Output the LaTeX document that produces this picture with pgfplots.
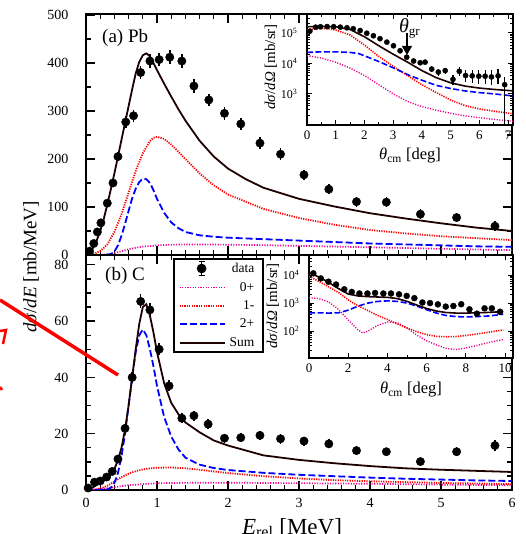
\documentclass[border=0pt]{standalone}
\usepackage{pgfplots}
\pgfplotsset{compat=1.18}
\usepackage{pgfplotstable}
\usepackage{fontspec}
\setmainfont{Liberation Serif}
\usetikzlibrary{arrows.meta}
\definecolor{sumc}{RGB}{30,0,0}

\pgfplotstableread{
x y e
0.05 8 3
0.11 24 5
0.16 48 6
0.21 67 7
0.30 108 8
0.38 150 9
0.45 205 10
0.56 277 12
0.67 290 13
0.77 380 13
0.90 404 14
1.03 407 14
1.18 412 15
1.35 404 14
1.52 352 14
1.73 323 13
1.95 295 13
2.18 273 13
2.45 233 13
2.74 210 12
3.07 167 11
3.42 137 10
3.81 111 10
4.23 110 10
4.71 85 10
5.22 78 9
5.76 60 10
}\dataA

\pgfplotstableread{
x y e
0.03 0.7 0.5
0.12 2.8 0.6
0.20 3.2 0.7
0.29 4.6 0.8
0.37 6.6 0.9
0.45 11 1.1
0.55 21.9 1.5
0.65 40 2
0.77 67 2.5
0.90 64 2.5
1.03 50 2.2
1.17 37 2
1.35 25.5 1.8
1.52 26.4 1.8
1.72 23.4 1.8
1.95 18.4 1.6
2.18 18.6 1.6
2.45 19.4 1.7
2.74 18.2 1.7
3.07 17.4 1.6
3.42 16.4 1.6
3.81 14 1.5
4.23 13.6 1.4
4.71 10.1 1.4
5.22 13.6 1.6
5.76 15.8 1.8
}\dataB

\pgfplotstableread{
x y ep em
0.10 1.15e5 2.5e4 2.5e4
0.30 1.55e5 1e4 1e4
0.47 1.6e5 1e4 1e4
0.70 1.62e5 1e4 1e4
0.93 1.6e5 1e4 1e4
1.16 1.55e5 1e4 1e4
1.39 1.48e5 1e4 1e4
1.61 1.38e5 1e4 1e4
1.85 1.2e5 1e4 1e4
2.08 9.8e4 8e3 8e3
2.31 8.1e4 7e3 7e3
2.54 6.5e4 5e3 5e3
2.78 5.0e4 4e3 4e3
3.01 3.8e4 3e3 3e3
3.24 2.6e4 2.5e3 2.5e3
3.47 1.6e4 2e3 2e3
3.71 1.2e4 1.5e3 1.5e3
3.94 1.05e4 1.5e3 1.5e3
4.11 1.1e4 1.5e3 1.5e3
4.34 6.5e3 1.5e3 1.2e3
4.57 5.2e3 1.5e3 1.2e3
4.81 5.8e3 1.5e3 1.2e3
5.08 3.0e3 1.3e3 1e3
5.30 5.5e3 2e3 1.5e3
5.52 4.0e3 2e3 1.5e3
5.75 3.9e3 2.2e3 1.6e3
5.98 3.8e3 2.3e3 1.7e3
6.20 3.8e3 2.3e3 1.7e3
6.42 3.6e3 2.3e3 1.7e3
6.65 3.9e3 2.5e3 1.8e3
6.88 2.0e3 1.6e3 1.99e3
}\insA

\pgfplotstableread{
x y e
0.22 1.15e4 1e3
0.60 7.6e3 5e2
0.99 5.8e3 4e2
1.38 4.6e3 3e2
1.80 3.1e3 2e2
2.18 2.5e3 2e2
2.57 2.2e3 1.5e2
2.98 2.2e3 1.5e2
3.37 2.3e3 1.5e2
3.79 2.2e3 1.5e2
4.18 2.2e3 1.5e2
4.59 2.05e3 1.5e2
4.98 1.8e3 1.5e2
5.37 1.5e3 1.2e2
5.78 1.05e3 1e2
6.17 1.0e3 1e2
6.57 900 90
6.97 750 80
7.36 790 80
7.76 910 90
8.18 600 80
8.56 420 80
8.95 650 100
9.32 650 110
9.74 490 100
}\insB

\tikzset{
 cZero/.style={magenta, line width=1.7pt, dash pattern=on 1.1pt off 1.5pt},
 cOne/.style={red, line width=1.8pt, dash pattern=on 1.2pt off 1.2pt},
 cTwo/.style={blue, line width=1.8pt, dash pattern=on 7pt off 3pt},
 cSum/.style={sumc, line width=1.8pt},
}
\pgfplotsset{
 mainax/.style={scale only axis, anchor=south west,
   axis line style={line width=1.6pt}, tick style={line width=1.3pt, black},
   major tick length=9pt, minor tick length=5pt, tick align=inside,
   /pgf/number format/assume math mode=true,
   ticklabel style={font=\fontsize{14}{15}\selectfont},
   yticklabel style={xshift=-14pt}, xticklabel style={yshift=-5pt}},
 insax/.style={scale only axis, anchor=south west,
   axis background/.style={fill=white},
   axis line style={line width=1.4pt}, tick style={line width=1.0pt, black},
   major tick length=5pt, minor tick length=3pt, tick align=inside,
   /pgf/number format/assume math mode=true,
   ticklabel style={font=\fontsize{13}{14}\selectfont},
   yticklabel style={xshift=-6pt, font=\fontsize{12}{13}\selectfont}, xticklabel style={yshift=-2pt}},
}

\begin{document}
\begin{tikzpicture}
\useasboundingbox (0pt,0pt) rectangle (525pt,534pt);

% ---------- panel (a) ----------
\begin{axis}[mainax, at={(86pt,279pt)}, width=426pt, height=241pt,
  xmin=0, xmax=6, ymin=0, ymax=502,
  xtick={0,1,...,6}, xticklabel=\empty, minor x tick num=4,
  ytick={0,100,...,500}, minor y tick num=1]
\addplot[cZero] coordinates {(0,0) (0.2,0.5) (0.3,1.5) (0.4,4) (0.5,8) (0.6,12) (0.7,15) (0.8,17.5) (1.0,20) (1.2,21.5) (1.5,22) (2.0,21.5) (2.5,20.5) (3.0,19) (3.5,17.5) (4.0,16) (4.5,14.5) (5.0,13) (5.5,11.5) (6.0,10)};
\addplot[cOne] coordinates {(0,0) (0.1,2) (0.2,8) (0.3,22) (0.4,48) (0.5,85) (0.6,130) (0.7,175) (0.8,212) (0.9,237) (0.95,244) (1.0,246) (1.1,242) (1.2,230) (1.4,200) (1.6,170) (1.8,145) (2.0,126) (2.5,96) (3.0,77) (3.5,63) (4.0,52) (4.5,45) (5.0,39) (5.5,35) (6.0,31)};
\addplot[cTwo] coordinates {(0,0) (0.2,0) (0.3,0.5) (0.35,2) (0.4,7) (0.45,20) (0.5,40) (0.55,65) (0.6,92) (0.65,118) (0.7,138) (0.75,152) (0.8,159) (0.85,158) (0.9,150) (0.95,135) (1.0,117) (1.1,88) (1.2,68) (1.3,56) (1.4,48) (1.6,41) (1.8,38) (2.0,36) (2.5,33) (3.0,30) (3.5,27) (4.0,24) (4.5,22) (5.0,20) (5.5,18) (6.0,17)};
\addplot[cSum] coordinates {(0,0) (0.05,4) (0.1,15) (0.15,30) (0.2,50) (0.25,75) (0.3,105) (0.35,137) (0.4,170) (0.45,205) (0.5,240) (0.55,275) (0.6,310) (0.65,345) (0.7,378) (0.75,402) (0.8,416) (0.85,420) (0.9,414) (0.95,400) (1.0,385) (1.1,357) (1.2,330) (1.3,304) (1.4,280) (1.6,238) (1.8,205) (2.0,180) (2.25,158) (2.5,140) (3.0,117) (3.5,101) (4.0,87) (4.5,76) (5.0,66) (5.5,57) (6.0,50)};
\addplot[only marks, black, mark=*, mark size=4.2pt,
  error bars/.cd, y dir=both, y explicit, error bar style={line width=1.5pt}, error mark=none]
  table[x=x, y=y, y error=e] {\dataA};
\end{axis}

% ---------- inset (a) ----------
\begin{axis}[insax, at={(307pt,409pt)}, width=206pt, height=111pt,
  ymode=log, xmin=0, xmax=7.17, ymin=95, ymax=4.2e5,
  xtick={0,1,...,7}, minor x tick num=1,
  ytick={1e3,1e4,1e5}, yticklabels={10\textsuperscript{3},10\textsuperscript{4},10\textsuperscript{5}},
  minor ytick={100,200,300,400,500,600,700,800,900,2000,3000,4000,5000,6000,7000,8000,9000,20000,30000,40000,50000,60000,70000,80000,90000,200000,300000,400000}]
\addplot[cZero, line width=1.4pt] coordinates {(0,1.8e4) (0.5,1.5e4) (1.0,1.1e4) (1.5,7e3) (2.0,4e3) (2.5,2e3) (3.0,1e3) (3.5,560) (4.0,380) (4.5,290) (5.0,230) (5.5,190) (6.0,165) (6.5,145) (7.2,125)};
\addplot[cOne, line width=1.6pt] coordinates {(0,1.25e5) (0.25,1.35e5) (0.5,1.4e5) (0.75,1.38e5) (1.0,1.25e5) (1.5,8.6e4) (2.0,4.0e4) (2.5,1.7e4) (3.0,8e3) (3.5,4e3) (4.0,2.0e3) (4.5,1.1e3) (5.0,630) (5.5,410) (6.0,320) (6.5,270) (7.2,220)};
\addplot[cTwo, line width=1.6pt, dash pattern=on 6pt off 2.5pt] coordinates {(0,2.3e4) (0.5,2.4e4) (1.0,2.4e4) (1.5,2.3e4) (1.8,2.1e4) (2.08,1.66e4) (2.5,1.15e4) (3.0,7.2e3) (3.5,4.3e3) (4.0,2.8e3) (4.5,1.9e3) (5.0,1.5e3) (5.5,1.25e3) (6.0,1.1e3) (6.5,1.0e3) (7.2,850)};
\addplot[cSum, line width=1.6pt] coordinates {(0,1.6e5) (0.5,1.65e5) (1.0,1.6e5) (1.5,1.3e5) (2.0,7.5e4) (2.5,3.8e4) (3.0,2.0e4) (3.5,1.1e4) (4.0,5.8e3) (4.5,3.4e3) (5.0,2.3e3) (5.5,1.8e3) (6.0,1.55e3) (6.5,1.4e3) (7.2,1.25e3)};
\addplot[only marks, black, mark=*, mark size=2.6pt,
  error bars/.cd, y dir=both, y explicit, error bar style={line width=1.2pt}, error mark=none]
  table[x=x, y=y, y error plus=ep, y error minus=em] {\insA};
\draw[line width=1.4pt, -{Triangle[length=9pt,width=10pt]}] (axis cs:3.48,1.0e5) -- (axis cs:3.48,1.9e4);
\node[anchor=base west, inner sep=0pt, font=\fontsize{20}{22}\selectfont] at (axis cs:3.2,1.02e5) {\textit{θ}\textsubscript{\fontsize{13}{14}\selectfont gr}};
\end{axis}

% ---------- panel (b) ----------
\begin{axis}[mainax, at={(86pt,44pt)}, width=426pt, height=235pt,
  xmin=0, xmax=6, ymin=0, ymax=83.5,
  xtick={0,1,...,6}, minor x tick num=4,
  ytick={0,20,...,80}, minor y tick num=3,
  legend style={at={(0.204,0.987)}, anchor=north west, draw=black, line width=1.6pt, fill=white,
    font=\fontsize{13.5}{15}\selectfont, inner xsep=5pt, inner ysep=2pt, row sep=4pt,
    nodes={inner xsep=4pt}},
  legend cell align=right,
  legend image code/.code={\draw[#1] (0pt,0pt) -- (45pt,0pt);}]
\addplot[only marks, black, mark=*, mark size=4.2pt,
  legend image code/.code={\draw[black, line width=1.3pt] (22pt,-7pt) -- (22pt,7pt) (19pt,7pt) -- (25pt,7pt) (19pt,-7pt) -- (25pt,-7pt); \fill[black] (22pt,0pt) circle (4pt);},
  error bars/.cd, y dir=both, y explicit, error bar style={line width=1.5pt}, error mark=none]
  table[x=x, y=y, y error=e] {\dataB};
\addlegendentry{data}
\addplot[cZero] coordinates {(0,0) (0.2,0.3) (0.4,1) (0.6,1.7) (0.8,2.1) (1.0,2.4) (1.5,2.6) (2.0,2.6) (3.0,2.4) (4.0,2.2) (5.0,1.9) (6.0,1.7)};
\addlegendentry{0+}
\addplot[cOne] coordinates {(0,0) (0.1,0.1) (0.2,0.5) (0.3,1.5) (0.4,3) (0.5,4.6) (0.6,5.8) (0.7,6.7) (0.8,7.3) (0.9,7.7) (1.0,7.9) (1.2,8) (1.4,7.7) (1.6,7.2) (1.8,6.6) (2.0,6.0) (2.5,4.9) (3.0,4.1) (3.5,3.5) (4.0,3.1) (4.5,2.8) (5.0,2.5) (5.5,2.3) (6.0,2.1)};
\addlegendentry{1-}
\addplot[cTwo] coordinates {(0,0) (0.3,0.2) (0.35,0.8) (0.4,2.5) (0.45,6) (0.5,12) (0.55,20) (0.6,30) (0.65,40) (0.7,49) (0.75,55) (0.8,57) (0.85,55) (0.9,50) (0.95,44) (1.0,37) (1.1,26) (1.2,19) (1.3,14.5) (1.4,11.5) (1.6,9) (1.8,7.8) (2.0,7.1) (2.5,6.1) (3.0,5.4) (3.5,4.9) (4.0,4.4) (4.5,4.0) (5.0,3.7) (5.5,3.4) (6.0,3.2)};
\addlegendentry{2+}
\addplot[cSum] coordinates {(0,0) (0.1,1) (0.2,2.5) (0.3,4.2) (0.35,5.5) (0.4,7.5) (0.45,10.5) (0.5,15) (0.55,21.5) (0.6,30) (0.65,40) (0.7,50) (0.75,59) (0.8,65) (0.85,66) (0.9,62) (0.95,56) (1.0,49) (1.1,38) (1.2,31) (1.3,27) (1.4,24) (1.6,20.5) (1.8,17.6) (2.0,15.8) (2.5,12.3) (3.0,10.7) (3.5,9.5) (4.0,8.5) (4.5,7.7) (5.0,7.2) (5.5,6.8) (6.0,6.4)};
\addlegendentry{Sum}
\end{axis}

% ---------- inset (b) ----------
\begin{axis}[insax, at={(309pt,176pt)}, width=204pt, height=103pt,
  ymode=log, xmin=0, xmax=10.4, ymin=11, ymax=5.2e4,
  xtick={0,2,...,10}, minor x tick num=1,
  ytick={1e2,1e3,1e4}, yticklabels={10\textsuperscript{2},10\textsuperscript{3},10\textsuperscript{4}},
  minor ytick={20,30,40,50,60,70,80,90,200,300,400,500,600,700,800,900,2000,3000,4000,5000,6000,7000,8000,9000,20000,30000,40000,50000}]
\addplot[cZero, line width=1.4pt] coordinates {(0,1.55e3) (0.5,1.45e3) (1.0,1.1e3) (1.5,600) (2.0,250) (2.5,110) (2.75,85) (3.0,100) (3.5,160) (4.0,210) (4.5,200) (5.0,130) (5.5,72) (6.0,45) (6.5,32) (7.0,24) (7.5,22) (8.0,25) (8.5,30) (9.0,37) (9.5,44) (9.9,50)};
\addplot[cOne, line width=1.6pt] coordinates {(0,9e3) (0.5,6e3) (1.0,3.8e3) (1.5,2.4e3) (2.0,1.3e3) (2.5,800) (3.0,540) (3.5,360) (4.0,260) (4.5,180) (5.0,130) (5.5,95) (6.0,75) (6.5,65) (7.0,63) (7.5,64) (8.0,70) (8.5,78) (9.0,88) (9.5,100) (9.9,110)};
\addplot[cTwo, line width=1.6pt, dash pattern=on 6pt off 2.5pt] coordinates {(0,450) (0.5,450) (1.0,440) (1.5,450) (2.0,560) (2.5,780) (3.0,1.0e3) (3.5,1.15e3) (4.0,1.2e3) (4.5,1.15e3) (5.0,1.0e3) (5.5,780) (6.0,580) (6.5,440) (7.0,360) (7.5,330) (8.0,320) (8.5,330) (9.0,340) (9.5,370) (9.9,400)};
\addplot[cSum, line width=1.6pt] coordinates {(0,1.25e4) (0.5,8.5e3) (1.0,5.5e3) (1.5,3.3e3) (2.0,2.1e3) (2.5,1.8e3) (3.0,1.7e3) (3.5,1.65e3) (4.0,1.6e3) (4.5,1.45e3) (5.0,1.15e3) (5.5,850) (6.0,640) (6.5,520) (7.0,460) (7.5,440) (8.0,440) (8.5,450) (9.0,460) (9.5,480) (9.9,490)};
\addplot[only marks, black, mark=*, mark size=3pt,
  error bars/.cd, y dir=both, y explicit, error bar style={line width=1.2pt}, error mark=none]
  table[x=x, y=y, y error=e] {\insB};
\end{axis}

% ---------- labels ----------
\node[rotate=90, font=\fontsize{19}{21}\selectfont] at (31pt,267pt) {\textit{dσ}/\textit{dE} [mb/MeV]};
\node[anchor=base, font=\fontsize{23}{25}\selectfont] at (292pt,0pt) {\textit{E}\textsubscript{rel} [MeV]};
\node[anchor=base west, font=\fontsize{19}{21}\selectfont, inner sep=0pt] at (102pt,491pt) {(a) Pb};
\node[anchor=base west, font=\fontsize{19}{21}\selectfont, inner sep=0pt] at (105pt,253pt) {(b) C};
\node[rotate=90, font=\fontsize{15}{17}\selectfont] at (271pt,467pt) {\textit{dσ}/\textit{dΩ} [mb/sr]};
\node[rotate=90, font=\fontsize{15}{17}\selectfont] at (273pt,228pt) {\textit{dσ}/\textit{dΩ} [mb/sr]};
\node[anchor=base, font=\fontsize{16.5}{18}\selectfont] at (410pt,374pt) {\textit{θ}\textsubscript{cm} [deg]};
\node[anchor=base, font=\fontsize{16.5}{18}\selectfont] at (411pt,140pt) {\textit{θ}\textsubscript{cm} [deg]};

% ---------- stray red annotation ----------
\draw[red, line width=3.5pt] (0pt,234pt) -- (118pt,159pt);
\draw[red, line width=2.5pt] (0pt,203pt) -- (6pt,204pt) -- (3pt,190pt);
\draw[red, line width=2.5pt] (0pt,147pt) -- (2pt,144pt);
\end{tikzpicture}
\end{document}
